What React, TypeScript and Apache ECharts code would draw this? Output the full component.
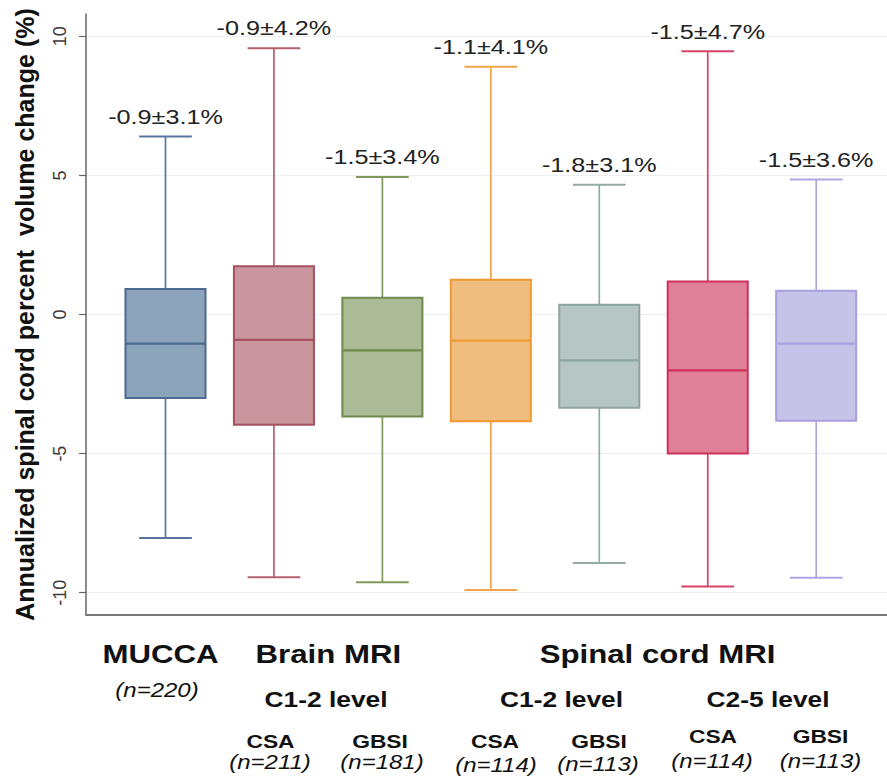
import React, { useEffect, useRef } from "react";
import * as echarts from "echarts";

const groups = [
  "MUCCA",
  "Brain MRI C1-2 CSA",
  "Brain MRI C1-2 GBSI",
  "Spinal cord MRI C1-2 CSA",
  "Spinal cord MRI C1-2 GBSI",
  "Spinal cord MRI C2-5 CSA",
  "Spinal cord MRI C2-5 GBSI",
];
const whiskerLow = [-8.03, -9.44, -9.62, -9.9, -8.93, -9.78, -9.46];
const q1 = [-3.0, -3.96, -3.67, -3.84, -3.35, -5.0, -3.82];
const median = [-1.05, -0.91, -1.29, -0.94, -1.65, -2.01, -1.05];
const q3 = [0.92, 1.73, 0.6, 1.25, 0.35, 1.19, 0.85];
const whiskerHigh = [6.4, 9.57, 4.94, 8.9, 4.66, 9.46, 4.85];
const statLabels = [
  "-0.9±3.1%",
  "-0.9±4.2%",
  "-1.5±3.4%",
  "-1.1±4.1%",
  "-1.8±3.1%",
  "-1.5±4.7%",
  "-1.5±3.6%",
];
const yTicks = [-10, -5, 0, 5, 10];
const yTitle = "Annualized spinal cord percent  volume change (%)";

const COLORS = [
  { fill: "#8ba3bb", stroke: "#4d6b90", line: "#5676a0" },
  { fill: "#c8969c", stroke: "#a8505f", line: "#b3606f" },
  { fill: "#abbb95", stroke: "#6f8a4c", line: "#7f9a5c" },
  { fill: "#efbd7e", stroke: "#f0992f", line: "#f3a54a" },
  { fill: "#b6c6c2", stroke: "#8ea49e", line: "#94aaa4" },
  { fill: "#e07f98", stroke: "#d0305a", line: "#d84368" },
  { fill: "#c5c3e8", stroke: "#a9a0e0", line: "#aea6e4" },
];

const FONT = '"Liberation Sans", Arial, Helvetica, sans-serif';
const BOX_WIDTH = 0.738;
const CAP_WIDTH = 0.486;
const SX = 1.2;

function label(
  text: string,
  x: number,
  y: number,
  size: number,
  weight: string,
  style: string = "normal"
) {
  return {
    type: "text",
    x,
    y,
    scaleX: SX,
    silent: true,
    style: {
      text,
      fontSize: size,
      fontWeight: weight,
      fontStyle: style,
      fontFamily: FONT,
      fill: "#111",
      align: "center",
      verticalAlign: "middle",
    },
  };
}

export default function App() {
  const ref = useRef<HTMLDivElement>(null);

  useEffect(() => {
    const chart = echarts.init(ref.current!, null, { renderer: "svg" });
    const data = groups.map((_, i) => [
      i + 1,
      whiskerLow[i],
      q1[i],
      median[i],
      q3[i],
      whiskerHigh[i],
      i,
    ]);

    chart.setOption({
      animation: false,
      backgroundColor: "#ffffff",
      grid: { left: 86, right: 0, top: 14, bottom: 163 },
      xAxis: {
        type: "value",
        min: 0.267,
        max: 7.653,
        axisLine: { show: true, onZero: false, lineStyle: { color: "#777", width: 2 } },
        axisTick: { show: false },
        axisLabel: { show: false },
        splitLine: { show: false },
      },
      yAxis: {
        type: "value",
        min: -10.8,
        max: 10.8,
        name: yTitle,
        nameLocation: "middle",
        nameGap: 49,
        nameRotate: 90,
        nameTextStyle: {
          fontSize: 25,
          fontWeight: "bold",
          fontFamily: FONT,
          color: "#111",
          padding: [0, 0, 0, 0],
        },
        axisLine: { show: true, onZero: false, lineStyle: { color: "#666", width: 1.5 } },
        axisTick: {
          show: true,
          length: 7,
          customValues: yTicks,
          lineStyle: { color: "#666", width: 1.2 },
        },
        axisLabel: {
          show: true,
          customValues: yTicks,
          rotate: 90,
          fontSize: 18,
          fontFamily: FONT,
          color: "#3f3838",
          margin: 17,
        },
        splitLine: { show: true, lineStyle: { color: "#eceef3", width: 1.2 } },
      },
      series: [
        {
          type: "custom",
          data,
          clip: false,
          renderItem: (params: any, api: any) => {
            const x = api.value(0);
            const idx = params.dataIndex;
            const c = COLORS[idx];
            const pLow = api.coord([x, api.value(1)]);
            const pQ1 = api.coord([x, api.value(2)]);
            const pMed = api.coord([x, api.value(3)]);
            const pQ3 = api.coord([x, api.value(4)]);
            const pHigh = api.coord([x, api.value(5)]);
            const half = api.size([BOX_WIDTH, 0])[0] / 2;
            const capHalf = api.size([CAP_WIDTH, 0])[0] / 2;
            const cx = pMed[0];
            const wStyle = { stroke: c.line, lineWidth: 1.7 };
            return {
              type: "group",
              children: [
                {
                  type: "line",
                  shape: { x1: cx, y1: pHigh[1], x2: cx, y2: pQ3[1] },
                  style: wStyle,
                },
                {
                  type: "line",
                  shape: { x1: cx, y1: pQ1[1], x2: cx, y2: pLow[1] },
                  style: wStyle,
                },
                {
                  type: "line",
                  shape: { x1: cx - capHalf, y1: pHigh[1], x2: cx + capHalf, y2: pHigh[1] },
                  style: { stroke: c.line, lineWidth: 2 },
                },
                {
                  type: "line",
                  shape: { x1: cx - capHalf, y1: pLow[1], x2: cx + capHalf, y2: pLow[1] },
                  style: { stroke: c.line, lineWidth: 2 },
                },
                {
                  type: "rect",
                  shape: {
                    x: cx - half,
                    y: pQ3[1],
                    width: half * 2,
                    height: pQ1[1] - pQ3[1],
                  },
                  style: { fill: c.fill, stroke: c.stroke, lineWidth: 2 },
                },
                {
                  type: "line",
                  shape: { x1: cx - half, y1: pMed[1], x2: cx + half, y2: pMed[1] },
                  style: { stroke: c.stroke, lineWidth: 2.2 },
                },
                {
                  type: "text",
                  x: cx,
                  y: pHigh[1] - 20,
                  scaleX: SX,
                  style: {
                    text: statLabels[idx],
                    fontSize: 21,
                    fontFamily: FONT,
                    fill: "#222",
                    align: "center",
                    verticalAlign: "middle",
                  },
                },
              ],
            };
          },
        },
      ],
      graphic: {
        elements: [
          label("MUCCA", 160.5, 654, 26, "bold"),
          label("Brain MRI", 328.3, 654, 26, "bold"),
          label("Spinal cord MRI", 657.5, 654, 26, "bold"),
          label("(n=220)", 157, 690, 20, "normal", "italic"),
          label("C1-2 level", 326, 699, 22, "bold"),
          label("C1-2 level", 561.5, 699, 22, "bold"),
          label("C2-5 level", 768, 699, 22, "bold"),
          label("CSA", 270.5, 741, 19, "bold"),
          label("GBSI", 380, 741, 19, "bold"),
          label("CSA", 495, 741.5, 19, "bold"),
          label("GBSI", 599, 741, 19, "bold"),
          label("CSA", 713, 736.5, 19, "bold"),
          label("GBSI", 820.5, 736.5, 19, "bold"),
          label("(n=211)", 270, 762, 20, "normal", "italic"),
          label("(n=181)", 382, 762, 20, "normal", "italic"),
          label("(n=114)", 496, 765, 20, "normal", "italic"),
          label("(n=113)", 598, 764, 20, "normal", "italic"),
          label("(n=114)", 712, 761, 20, "normal", "italic"),
          label("(n=113)", 820.5, 761, 20, "normal", "italic"),
        ],
      },
    });

    return () => chart.dispose();
  }, []);

  return (
    <div
      ref={ref}
      style={{
        position: "fixed",
        left: 0,
        top: 0,
        width: 887,
        height: 778,
        background: "#fff",
      }}
    />
  );
}
